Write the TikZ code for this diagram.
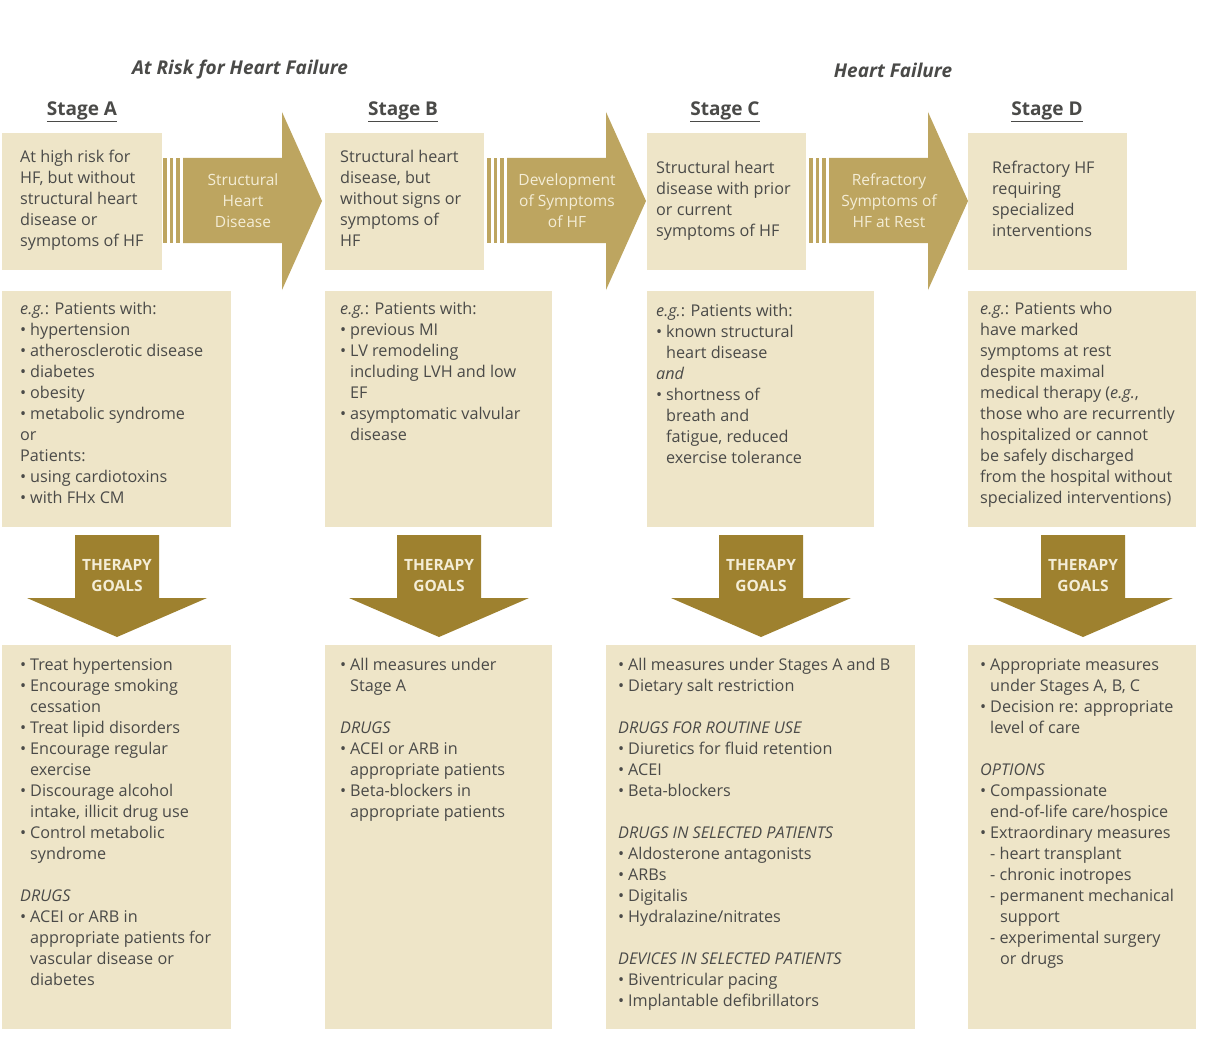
\documentclass[tikz,border=0pt]{standalone}
\usepackage{fontspec}
\setmainfont{Open Sans}
\definecolor{boxc}{HTML}{EEE5C8}
\definecolor{harc}{HTML}{BDA560}
\definecolor{darc}{HTML}{9E812F}
\definecolor{txtc}{HTML}{4A4A48}
\definecolor{atxt}{HTML}{F4EDD6}
\newcommand\bu{\makebox[10pt][l]{•}}
\newcommand\ind{\hspace*{10pt}}
\newcommand\indd{\hspace*{20pt}}
\begin{document}
\begin{tikzpicture}[x=1pt,y=-1pt,
  box/.style={fill=boxc,draw=none},
  txt/.style={anchor=north west,align=left,font=\fontsize{16.2}{21}\selectfont,text=txtc,inner sep=0pt},
  atx/.style={align=center,font=\fontsize{15.5}{21}\selectfont,text=atxt,inner sep=0pt},
  dtx/.style={align=center,font=\bfseries\fontsize{15.5}{21}\selectfont,text=atxt,inner sep=0pt},
  hd/.style={font=\bfseries\fontsize{19}{24}\selectfont,text=txtc},
  ttl/.style={font=\bfseries\itshape\fontsize{19}{24}\selectfont,text=txtc}]
\useasboundingbox (0,0) rectangle (1210,1046);
\fill[white] (0,0) rectangle (1210,1046);
% titles
\node[ttl] (t1) at (240,70) {At Risk for Heart Failure};
\node[ttl] (t2) at (893,70) {Heart Failure};
\node[hd] (sa) at (82,112) {\underline{Stage A}};
\node[hd] (sb) at (403,112) {\underline{Stage B}};
\node[hd] (sc) at (725,112) {\underline{Stage C}};
\node[hd] (sd) at (1047,112) {\underline{Stage D}};
% horizontal arrows
\foreach \x/\l/\n in {163/{Structural\\Heart\\Disease}/ha,487/{Development\\of Symptoms\\of HF}/hb,809/{Refractory\\Symptoms of\\HF at Rest}/hc}{
  \fill[harc] (\x,158) rectangle (\x+4,243);
  \fill[harc] (\x+7,158) rectangle (\x+10,243);
  \fill[harc] (\x+13,158) rectangle (\x+17,243);
  \fill[harc] (\x+20,158) -- (\x+119,158) -- (\x+119,112) -- (\x+159,201) -- (\x+119,290) -- (\x+119,243) -- (\x+20,243) -- cycle;
  \node[atx] (\n) at (\x+80,201) {\l};
}
% down arrows
\foreach \c/\n in {117/da,439/db,761/dc,1083/dd}{
  \fill[darc] (\c-42,535) -- (\c+42,535) -- (\c+42,598) -- (\c+90,598) -- (\c,637) -- (\c-90,598) -- (\c-42,598) -- cycle;
  \node[dtx] (\n) at (\c,576) {THERAPY\\GOALS};
}
% top boxes
\fill[box] (2,133) rectangle (162,270);
\fill[box] (325,133) rectangle (484,270);
\fill[box] (647,133) rectangle (806,270);
\fill[box] (968,133) rectangle (1127,270);
\node[txt] (ta) at (20,150) {At high risk for\\HF, but without\\structural heart\\disease or\\symptoms of HF};
\node[txt] (tb) at (340,150) {Structural heart\\disease, but\\without signs or\\symptoms of\\HF};
\node[txt] (tc) at (656,161) {Structural heart\\disease with prior\\or current\\symptoms of HF};
\node[txt] (td) at (992,161) {Refractory HF\\requiring\\specialized\\interventions};
% middle boxes
\fill[box] (2,291) rectangle (231,527);
\fill[box] (325,291) rectangle (552,527);
\fill[box] (647,291) rectangle (874,527);
\fill[box] (968,291) rectangle (1196,527);
\node[txt] (ma) at (20,302) {\textit{e.g.}: Patients with:\\\bu hypertension\\\bu atherosclerotic disease\\\bu diabetes\\\bu obesity\\\bu metabolic syndrome\\or\\Patients:\\\bu using cardiotoxins\\\bu with FHx CM};
\node[txt] (mb) at (340,302) {\textit{e.g.}: Patients with:\\\bu previous MI\\\bu LV remodeling\\\ind including LVH and low\\\ind EF\\\bu asymptomatic valvular\\\ind disease};
\node[txt] (mc) at (656,304) {\textit{e.g.}: Patients with:\\\bu known structural\\\ind heart disease\\\textit{and}\\\bu shortness of\\\ind breath and\\\ind fatigue, reduced\\\ind exercise tolerance};
\node[txt] (md) at (980,302) {\textit{e.g.}: Patients who\\have marked\\symptoms at rest\\despite maximal\\medical therapy (\textit{e.g.},\\those who are recurrently\\hospitalized or cannot\\be safely discharged\\from the hospital without\\specialized interventions)};
% bottom boxes
\fill[box] (2,645) rectangle (231,1029);
\fill[box] (325,645) rectangle (552,1029);
\fill[box] (606,645) rectangle (915,1029);
\fill[box] (968,645) rectangle (1196,1029);
\node[txt] (ba) at (20,658) {\bu Treat hypertension\\\bu Encourage smoking\\\ind cessation\\\bu Treat lipid disorders\\\bu Encourage regular\\\ind exercise\\\bu Discourage alcohol\\\ind intake, illicit drug use\\\bu Control metabolic\\\ind syndrome\\[21pt]\textit{DRUGS}\\\bu ACEI or ARB in\\\ind appropriate patients for\\\ind vascular disease or\\\ind diabetes};
\node[txt] (bb) at (340,658) {\bu All measures under\\\ind Stage A\\[21pt]\textit{DRUGS}\\\bu ACEI or ARB in\\\ind appropriate patients\\\bu Beta-blockers in\\\ind appropriate patients};
\node[txt] (bc) at (618,658) {\bu All measures under Stages A and B\\\bu Dietary salt restriction\\[21pt]\textit{DRUGS FOR ROUTINE USE}\\\bu Diuretics for fluid retention\\\bu ACEI\\\bu Beta-blockers\\[21pt]\textit{DRUGS IN SELECTED PATIENTS}\\\bu Aldosterone antagonists\\\bu ARBs\\\bu Digitalis\\\bu Hydralazine/nitrates\\[21pt]\textit{DEVICES IN SELECTED PATIENTS}\\\bu Biventricular pacing\\\bu Implantable defibrillators};
\node[txt] (bd) at (980,658) {\bu Appropriate measures\\\ind under Stages A, B, C\\\bu Decision re: appropriate\\\ind level of care\\[21pt]\textit{OPTIONS}\\\bu Compassionate\\\ind end-of-life care/hospice\\\bu Extraordinary measures\\\ind - heart transplant\\\ind - chronic inotropes\\\ind - permanent mechanical\\\indd support\\\ind - experimental surgery\\\indd or drugs};
\end{tikzpicture}
\end{document}
